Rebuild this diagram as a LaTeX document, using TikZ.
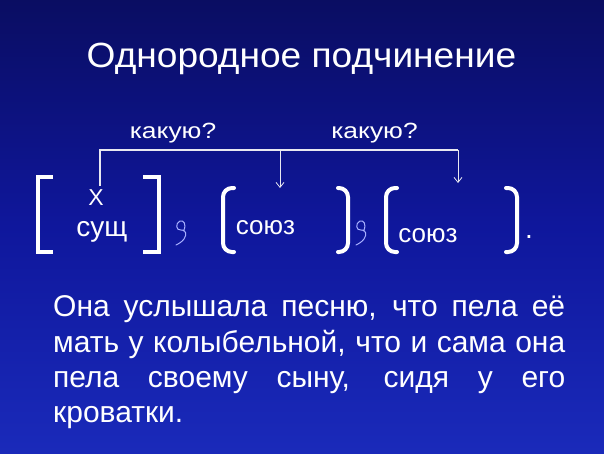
\documentclass[tikz,border=0pt]{standalone}
\usepackage{fontspec}
\setmainfont{Liberation Sans}
\usetikzlibrary{arrows.meta}
\definecolor{bgtop}{HTML}{0A0D62}
\definecolor{bgmid}{HTML}{0F179C}
\definecolor{bgbot}{HTML}{1A2ABA}
\definecolor{commacol}{HTML}{A8B0FF}
\definecolor{linecol}{HTML}{E8E8F0}
\begin{document}
\begin{tikzpicture}[x=1pt,y=-1pt,
  txt/.style={text=white, inner sep=0pt, anchor=base},
  brk/.style={draw=white, line width=4pt},
  link/.style={draw=linecol, line width=2pt},
  arr/.style={draw=linecol, line width=0.8pt, -{Straight Barb[length=5pt,width=8pt]}},
  comma/.style={draw=commacol, line width=1pt, line cap=round},
  commapic/.pic={\draw[comma] (2.5,10) .. controls (6,3) and (2.5,-1) .. (-1,0) .. controls (-6,2) and (-5,10) .. (0,9) .. controls (5,8) and (6,14) .. (3,18) .. controls (1,21) and (-3,23) .. (-5,24);}]
\shade[top color=bgtop, bottom color=bgbot, middle color=bgmid] (0,0) rectangle (604,453);
\useasboundingbox (0,0) rectangle (604,453);

% title
\node[txt, font=\fontsize{35}{40}\selectfont] (title) at (301.5,67) {\scalebox{1.06}[1]{Однородное подчинение}};

% question labels
\node[txt, font=\fontsize{22}{26}\selectfont] (q1) at (173,138) {\scalebox{1.2}[1]{какую?}};
\node[txt, font=\fontsize{22}{26}\selectfont] (q2) at (374.5,138) {\scalebox{1.2}[1]{какую?}};

% scheme texts
\node[txt, font=\fontsize{23}{26}\selectfont] (xx) at (96,205) {Х};
\node[txt, font=\fontsize{28}{32}\selectfont] (noun) at (102,236) {сущ};
\node[txt, font=\fontsize{26}{30}\selectfont] (conj1) at (265.5,234) {союз};
\node[txt, font=\fontsize{26}{30}\selectfont] (conj2) at (428,242) {союз};
\node[txt, font=\fontsize{28}{32}\selectfont] (dot) at (529,238) {.};

% connectors
\coordinate (hl) at (100,150);
\coordinate (hr) at (458,150);
\coordinate (a1) at (280,188);
\coordinate (a2) at (458,183);
\draw[link, shorten <=3pt] (xx.north -| hl) -- (hl) -- (hr);
\draw[arr] (hl -| a1) -- (a1);
\draw[arr] (hr) -- (a2);

% brackets
\draw[brk] (53,177) -- (38,177) -- (38,252) -- (53,252);
\draw[brk] (143,177) -- (159,177) -- (159,252) -- (143,252);
\draw[brk, line cap=round, rounded corners=9pt] (234,188) -- (223,188) -- (223,252) -- (234,252);
\draw[brk, line cap=round, rounded corners=9pt] (338,188) -- (348,188) -- (348,252) -- (338,252);
\draw[brk, line cap=round, rounded corners=9pt] (397,188) -- (386,188) -- (386,252) -- (397,252);
\draw[brk, line cap=round, rounded corners=9pt] (506,188) -- (517,188) -- (517,252) -- (506,252);

% hand-drawn commas
\pic at (181,221) {commapic};
\pic at (361,221) {commapic};

% sentence
\node[txt, anchor=base west, font=\fontsize{30}{35}\selectfont] (l1) at (53,316) {\makebox[512pt][s]{Она услышала песню, что пела её}};
\node[txt, anchor=base west, font=\fontsize{30}{35}\selectfont] (l2) at (53,352) {\makebox[512pt][s]{мать у колыбельной, что и сама она}};
\node[txt, anchor=base west, font=\fontsize{30}{35}\selectfont] (l3) at (53,387) {\makebox[512pt][s]{пела своему сыну, сидя у его}};
\node[txt, anchor=base west, font=\fontsize{30}{35}\selectfont] (l4) at (53,422) {кроватки.};
\end{tikzpicture}
\end{document}
